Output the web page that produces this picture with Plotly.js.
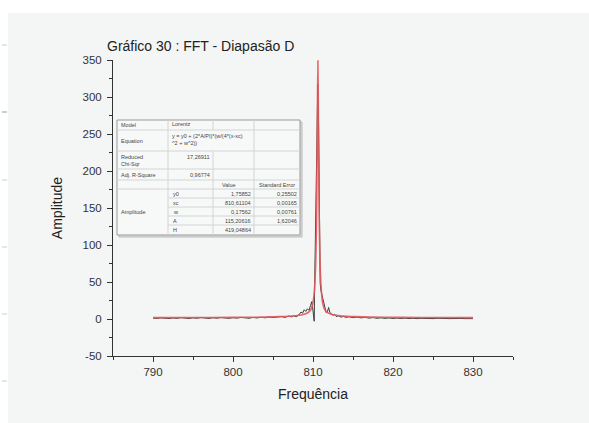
<!DOCTYPE html>
<html><head><meta charset="utf-8">
<script src="https://cdn.plot.ly/plotly-3.0.1.min.js"></script>
<style>html,body{margin:0;padding:0;background:#fff;}#chart{width:589px;height:423px;}</style>
</head><body><div id="chart"></div>
<script>
// ---- data ----
const freqData = [790,790.5,791,791.5,792,792.5,793,793.5,794,794.5,795,795.5,796,796.5,797,797.5,798,798.5,799,799.5,800,800.5,801,801.5,802,802.5,803,803.5,804,804.5,805,805.5,806,806.5,807,807.3,807.6,807.9,808.2,808.5,808.7,808.9,809.1,809.3,809.5,809.7,809.85,810.0,810.1,810.15,810.2,810.3,810.4,810.5,810.6,810.7,810.8,810.9,811.0,811.1,811.2,811.35,811.5,811.65,811.8,811.95,812.1,812.3,812.5,812.7,812.9,813.2,813.5,813.8,814.1,814.5,815,815.5,816,816.5,817,817.5,818,818.5,819,819.5,820,820.5,821,821.5,822,822.5,823,823.5,824,824.5,825,825.5,826,826.5,827,827.5,828,828.5,829,829.5,830];
const ampData = [1.2,0.8,1.5,1.0,0.6,1.4,0.9,1.8,1.1,0.7,1.6,1.0,1.9,1.2,0.8,1.7,1.1,2.0,1.3,0.9,1.8,1.2,2.2,1.5,1.0,2.1,1.4,2.4,1.6,2.8,1.9,2.6,3.4,2.2,4.1,2.8,4.6,3.0,5.2,9.5,7.8,12.5,10.2,13.8,11.6,18.5,23.5,11.0,4.0,-3.0,40,120,230,300,318,260,150,48,38,33,30,22,14,8.5,9.8,15.5,9.0,6.2,5.0,6.3,3.4,4.2,2.5,3.5,2.2,3.0,1.8,2.6,1.5,2.3,1.2,1.9,1.0,1.6,0.9,1.4,0.8,1.3,0.7,1.2,0.6,1.1,0.5,1.0,0.6,0.9,0.5,1.0,0.4,0.8,0.5,0.9,0.4,0.8,0.5,0.7,0.5];
const freqFit = [790,795,800,804,806,807.5,808.5,809,809.5,809.8,810,810.2,810.35,810.45,810.55,810.61,810.67,810.77,810.87,811.02,811.2,811.4,811.7,812.2,812.7,813.7,815.2,817.2,821,826,830];
const ampFit  = [1.9,2.0,2.2,2.6,3.2,4.0,5.3,6.6,9.5,14,22,42,80,140,280,349,280,140,80,42,22,14,9.5,6.6,5.3,4.0,3.2,2.6,2.2,2.0,1.9];
const xTicks = [790,800,810,820,830];
const yTicks = [-50,0,50,100,150,200,250,300,350];
// fit table
const tblTop = [["Model","Lorentz"],["Equation","y = y0 + (2*A/PI)*(w/(4*(x-xc)<br>^2 + w^2))"],["Reduced<br>Chi-Sqr","17,26911"],["Adj. R-Square","0,96774"]];
const tblHead = ["Value","Standard Error"];
const paramNames = ["y0","xc","w","A","H"];
const paramValues = ["1,75852","810,61104","0,17562","115,20616","419,04864"];
const paramErrors = ["0,25502","0,00165","0,00761","1,62046",""];
const paramGroup = "Amplitude";

// ---- layout helpers (pixel -> paper) ----
const L=113, T=60, W=400, H=296;
const fx = p => (p-L)/W;
const fy = p => (T+H-p)/H;
const FONT = "Liberation Sans, Arial, sans-serif";
const shapes = [];
const ann = [];
function line(x0,y0,x1,y1,color,w){shapes.push({type:'line',xref:'paper',yref:'paper',x0:fx(x0),y0:fy(y0),x1:fx(x1),y1:fy(y1),line:{color:color,width:w||1}});}
function txt(x,y,t,anchor,ya){ann.push({xref:'paper',yref:'paper',x:fx(x),y:fy(y),text:t,showarrow:false,xanchor:anchor||'left',yanchor:ya||'middle',align:anchor==='right'?'right':'left',font:{family:FONT,size:5.5,color:'#444'}});}

// background panel
shapes.push({type:'rect',xref:'paper',yref:'paper',x0:fx(8),x1:fx(589),y0:fy(423),y1:fy(13),fillcolor:'#f4f5f5',line:{width:0},layer:'below'});
[45,112,180,247,314,381].forEach((y,i)=>{line(2,y,7,y,i===1?'#999':'#ccc',1);});

// table
shapes.push({type:'rect',xref:'paper',yref:'paper',x0:fx(119),x1:fx(302),y0:fy(237),y1:fy(122),fillcolor:'#dcdcdc',line:{color:'#bbb',width:1}});
shapes.push({type:'rect',xref:'paper',yref:'paper',x0:fx(117),x1:fx(300),y0:fy(235),y1:fy(120),fillcolor:'#f7f8f8',line:{color:'#999',width:1}});
const gc='#d4d4d4';
line(168,120,168,235,gc);
line(213,120,213,130,gc); line(213,151,213,235,gc);
line(254,120,254,235,gc);
[130,151,169,180,189].forEach(y=>line(117,y,300,y,gc));
[198,207,216,225].forEach(y=>line(168,y,300,y,gc));

txt(119,125,tblTop[0][0]); txt(170,124.5,tblTop[0][1]);
txt(119,141,tblTop[1][0]); txt(170,130.8,tblTop[1][1],'left','top');
txt(119,160,tblTop[2][0]); txt(212,157,tblTop[2][1],'right');
txt(119,174.5,tblTop[3][0]); txt(212,174.5,tblTop[3][1],'right');
ann.push({xref:'paper',yref:'paper',x:fx(229),y:fy(184.5),text:tblHead[0],showarrow:false,xanchor:'center',font:{family:FONT,size:5.5,color:'#444'}});
ann.push({xref:'paper',yref:'paper',x:fx(277),y:fy(184.5),text:tblHead[1],showarrow:false,xanchor:'center',font:{family:FONT,size:5.5,color:'#444'}});
txt(119,211.5,paramGroup);
paramNames.forEach((n,i)=>{const y=193.5+9*i; txt(171,y,n); txt(253,y,paramValues[i],'right'); if(paramErrors[i]) txt(299,y,paramErrors[i],'right');});

const traces = [
  {x:freqData,y:ampData,type:'scatter',mode:'lines',line:{color:'#3a3a3a',width:1},hoverinfo:'skip'},
  {x:freqFit,y:ampFit,type:'scatter',mode:'lines',line:{color:'#e2585a',width:1.6,shape:'spline',smoothing:0.6},opacity:0.9,hoverinfo:'skip'}
];

const axisCommon = {showline:true,linecolor:'#333',linewidth:1,ticks:'outside',ticklen:5,tickwidth:1,tickcolor:'#333',showgrid:false,zeroline:false,
  tickfont:{family:FONT,size:11.5,color:'#333'},minor:{ticks:'outside',ticklen:3,tickcolor:'#333',showgrid:false}};

const layout = {
  width:589,height:423,margin:{l:L,r:589-L-W,t:T,b:423-T-H},
  paper_bgcolor:'#ffffff',plot_bgcolor:'rgba(0,0,0,0)',showlegend:false,
  title:{text:'Gráfico 30 : FFT - Diapasão D',x:107/589,xanchor:'left',xref:'container',y:1-46/423,yanchor:'middle',yref:'container',font:{family:FONT,size:14,color:'#222'}},
  xaxis:Object.assign({},axisCommon,{range:[785,835],tickvals:xTicks,ticktext:xTicks.map(String),minor:Object.assign({},axisCommon.minor,{dtick:5,tick0:785}),
    title:{text:'Frequência',font:{family:FONT,size:14,color:'#222'},standoff:12}}),
  yaxis:Object.assign({},axisCommon,{range:[-50,350],tickvals:yTicks,ticktext:yTicks.map(String),ticklabelstandoff:3,minor:Object.assign({},axisCommon.minor,{dtick:25,tick0:-50}),
    title:{text:'Amplitude',font:{family:FONT,size:14,color:'#222'},standoff:16}}),
  shapes:shapes,annotations:ann
};
Plotly.newPlot('chart',traces,layout,{staticPlot:true,displayModeBar:false});
</script></body></html>
